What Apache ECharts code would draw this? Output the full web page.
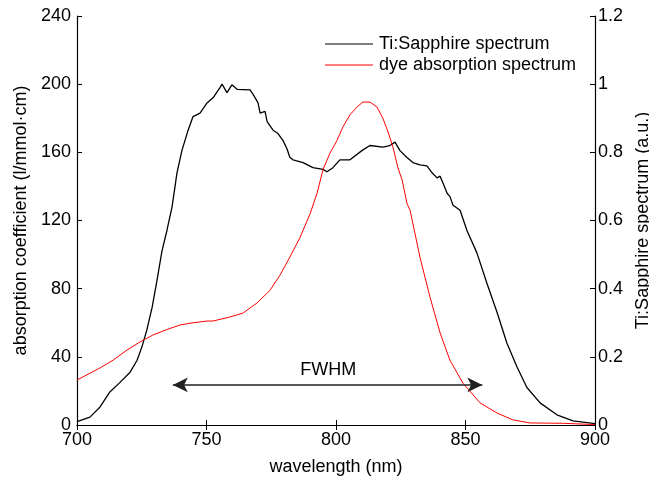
<!DOCTYPE html>
<html>
<head>
<meta charset="utf-8">
<script src="https://cdn.jsdelivr.net/npm/echarts@6/dist/echarts.min.js"></script>
<style>
html,body{margin:0;padding:0;background:#fff;overflow:hidden;width:649px;height:477px;}
#c{width:649px;height:477px;position:absolute;left:0;top:0;}
</style>
</head>
<body>
<div id="c"></div>
<script>
// Ti:Sapphire spectrum (right axis, a.u.)
var tiWavelength = [700,705,708.9,712.7,716.6,720.5,723.2,725.1,727,729,730.9,732.8,734.7,736.7,738.6,740.5,742.9,744.8,747.5,750.2,752.5,755.2,756,757.9,759.8,761.8,766.8,768,769.9,770.7,772.6,773.4,775.7,777.6,779.5,781.1,782.2,783.4,787.3,791.1,795,796.5,798.8,801.5,805.4,810,813.1,818.1,820.8,822.8,824.7,827.4,829.7,832.4,835.1,837.1,839,840.2,841.3,842.9,844,845.2,847.9,850.6,854.4,858.3,862.2,866,869.9,873.7,878.8,885.3,891.5,899.2,900];
var tiValue = [0.010,0.023,0.053,0.097,0.125,0.155,0.19,0.23,0.28,0.345,0.425,0.51,0.57,0.64,0.74,0.805,0.865,0.905,0.915,0.945,0.96,0.99,1.0,0.975,0.998,0.985,0.983,0.97,0.945,0.915,0.92,0.89,0.865,0.855,0.835,0.81,0.785,0.778,0.77,0.755,0.75,0.743,0.755,0.778,0.778,0.805,0.82,0.815,0.82,0.83,0.805,0.785,0.77,0.763,0.76,0.74,0.725,0.73,0.71,0.68,0.67,0.645,0.63,0.57,0.505,0.415,0.33,0.24,0.17,0.11,0.065,0.03,0.012,0.005,0.004];
// dye absorption spectrum (left axis, l/mmol·cm)
var dyeWavelength = [700,708.9,713.9,719.3,724.3,729.3,734.7,739.8,744.8,750.2,752.5,759.1,764.1,769.5,774.5,778.4,782.2,786.1,790,792.7,795,797.7,800.4,802.7,805.4,808.1,810.4,813.1,815.8,818.1,820.1,822,823.9,825.5,827.4,828.6,832.4,836.3,840.2,844,849,855.6,862.2,868.3,874.9,887.6,899.2,900];
var dyeValue = [26.4,33.5,38,44,48.7,52.8,56,58.7,60,61,61,63.4,65.7,71.6,79,88,98.6,110,124,136,150,159.6,167,175,182,186.6,189.5,189.5,186.6,180,172,163,151,144,130,126,98.6,75,54,38,24.6,13,7,3,1.2,1,0.3,0.3];
var xTicks = [700,750,800,850,900];
var leftTicks = [0,40,80,120,160,200,240];
var rightTicks = [0,0.2,0.4,0.6,0.8,1,1.2];
var fwhmStart = [737, 23.5];
var fwhmEnd = [856.5, 23.5];
var fwhmLabelPos = [797, 32];

function zip(a,b){return a.map(function(v,i){return [v,b[i]];});}
var FONT = 'Liberation Sans, Arial, sans-serif';
var FS = 18;
var chart = echarts.init(document.getElementById('c'), null, {renderer:'canvas',width:649,height:477});
chart.setOption({
  animation:false,
  backgroundColor:'#fff',
  textStyle:{fontFamily:FONT,color:'#000'},
  grid:{left:77,right:54,top:16,bottom:52,containLabel:false,outerBoundsMode:'none'},
  legend:{
    orient:'vertical', left:320, top:30,
    icon:'rect', itemWidth:48, itemHeight:1.2, itemGap:3,
    textStyle:{fontFamily:FONT,fontSize:FS,color:'#000',padding:[0,0,0,1]},
    data:['Ti:Sapphire spectrum','dye absorption spectrum']
  },
  xAxis:[{
    type:'value', min:xTicks[0], max:xTicks[xTicks.length-1], interval:50,
    name:'wavelength (nm)', nameLocation:'middle', nameGap:33,
    nameTextStyle:{fontFamily:FONT,fontSize:FS,color:'#000'},
    axisLine:{lineStyle:{color:'#000',width:1.2}},
    axisTick:{inside:true,length:5,lineStyle:{color:'#000'}},
    axisLabel:{fontFamily:FONT,fontSize:FS,color:'#000',margin:6},
    splitLine:{show:false}
  },{
    type:'value', position:'top', min:xTicks[0], max:xTicks[xTicks.length-1], interval:50,
    axisLine:{lineStyle:{color:'#000',width:1.2}},
    axisTick:{inside:true,length:5,lineStyle:{color:'#000'}},
    axisLabel:{show:false}, splitLine:{show:false}
  }],
  yAxis:[{
    type:'value', min:leftTicks[0], max:leftTicks[leftTicks.length-1], interval:40,
    name:'absorption coefficient (l/mmol·cm)', nameLocation:'middle', nameGap:47,
    nameTextStyle:{fontFamily:FONT,fontSize:FS,color:'#000'},
    axisLine:{show:true,lineStyle:{color:'#000',width:1.2}},
    axisTick:{show:true,inside:true,length:5,lineStyle:{color:'#000'}},
    axisLabel:{fontFamily:FONT,fontSize:FS,color:'#000',margin:6},
    splitLine:{show:false}
  },{
    type:'value', position:'right', min:rightTicks[0], max:rightTicks[rightTicks.length-1], interval:0.2,
    name:'Ti:Sapphire spectrum (a.u.)', nameLocation:'middle', nameGap:30,
    nameTextStyle:{fontFamily:FONT,fontSize:FS,color:'#000'},
    axisLine:{show:true,lineStyle:{color:'#000',width:1.2}},
    axisTick:{show:true,inside:true,length:5,lineStyle:{color:'#000'}},
    axisLabel:{fontFamily:FONT,fontSize:FS,color:'#000',margin:3,
      formatter:function(v){return String(Math.round(v*10)/10);}},
    splitLine:{show:false}
  }],
  series:[{
    name:'Ti:Sapphire spectrum', type:'line', xAxisIndex:0, yAxisIndex:1,
    data:zip(tiWavelength,tiValue), showSymbol:false, symbol:'none',
    lineStyle:{color:'#000',width:1.3}, itemStyle:{color:'#000'}, silent:true
  },{
    name:'dye absorption spectrum', type:'line', xAxisIndex:0, yAxisIndex:0,
    data:zip(dyeWavelength,dyeValue), showSymbol:false, symbol:'none',
    lineStyle:{color:'#ff0000',width:1}, itemStyle:{color:'#ff0000'}, silent:true,
    markLine:{
      silent:true, symbol:['arrow','arrow'], symbolSize:[11,15],
      lineStyle:{color:'#222',width:1.5,type:'solid'},
      label:{show:false},
      data:[[{coord:fwhmStart},{coord:fwhmEnd}]]
    },
    markPoint:{
      silent:true, symbol:'circle', symbolSize:0,
      label:{show:true,position:'inside',formatter:'FWHM',fontFamily:FONT,fontSize:FS,color:'#000'},
      data:[{coord:fwhmLabelPos}]
    }
  }]
});
</script>
</body>
</html>
